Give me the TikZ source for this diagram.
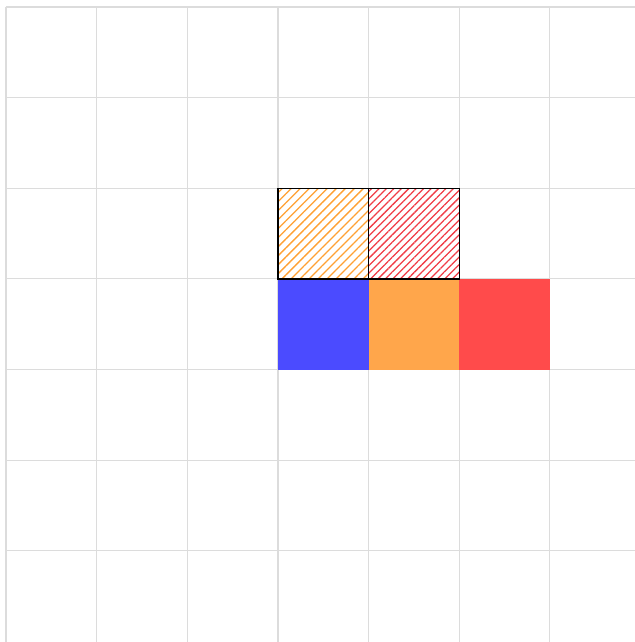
\documentclass[tikz,border=0pt]{standalone}
\usetikzlibrary{patterns.meta}
\definecolor{gridgray}{RGB}{220,220,220}
\definecolor{cblue}{RGB}{75,75,255}
\definecolor{corange}{RGB}{255,166,75}
\definecolor{cred}{RGB}{255,75,75}
\definecolor{horange}{RGB}{255,160,50}
\definecolor{hred}{RGB}{240,60,70}
\tikzset{
  gridline/.style={draw=gridgray, line width=0.35pt},
  fillcell/.style={draw=none, minimum size=1cm, inner sep=0pt, outer sep=0pt, anchor=south west},
  hatchcell/.style={draw=black, line width=0.45pt, minimum size=1cm, inner sep=0pt, outer sep=0pt, anchor=south west}
}
\begin{document}
\begin{tikzpicture}
\useasboundingbox (-0.066,-0.005) rectangle (6.935,7.077);
\foreach \x in {0,...,7} \draw[gridline] (\x,-0.1) -- (\x,7);
\foreach \y in {1,...,7} \draw[gridline] (0,\y) -- (7.5,\y);
\node[fillcell, fill=cblue] (b) at (3,3) {};
\node[fillcell, fill=corange] (o) at (4,3) {};
\node[fillcell, fill=cred] (r) at (5,3) {};
\node[hatchcell, pattern={Lines[angle=45,distance=2.0pt,line width=0.4pt]}, pattern color=horange] (ho) at (3,4) {};
\node[hatchcell, pattern={Lines[angle=45,distance=1.65pt,line width=0.4pt]}, pattern color=hred] (hr) at (4,4) {};
\end{tikzpicture}
\end{document}
